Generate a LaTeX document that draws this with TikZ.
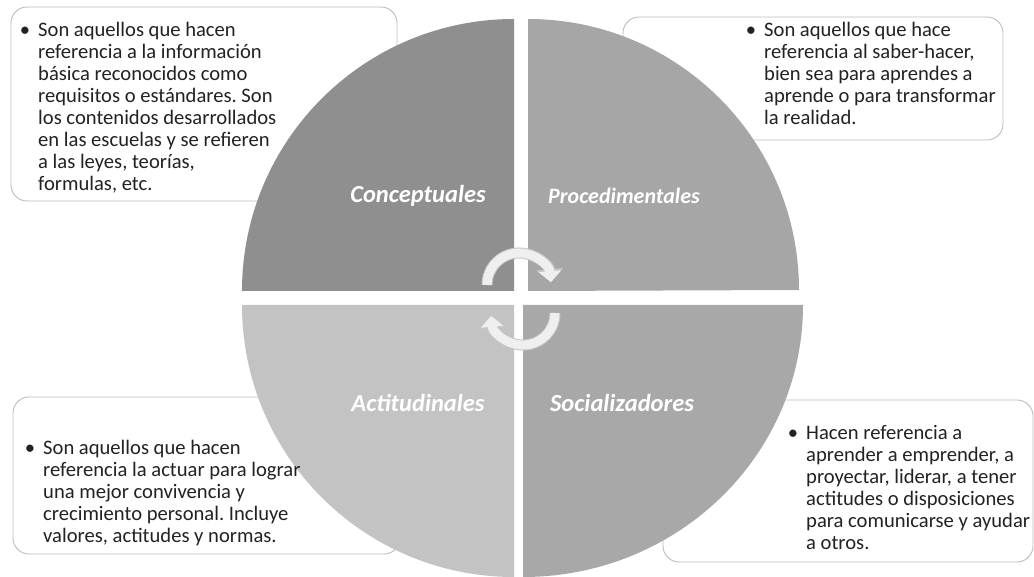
\documentclass[tikz,border=0pt]{standalone}
\usepackage{fontspec}
\setmainfont{Carlito}
\usetikzlibrary{arrows.meta}
\definecolor{qTL}{HTML}{8F8F8F}
\definecolor{qTR}{HTML}{A6A6A6}
\definecolor{qBL}{HTML}{C3C3C3}
\definecolor{qBR}{HTML}{A8A8A8}
\definecolor{boxline}{HTML}{BDBDBD}
\definecolor{txtcol}{HTML}{222222}
\definecolor{arrfill}{HTML}{EFEFEF}
\definecolor{arredge}{HTML}{C6C6C6}
\newcommand{\mybul}{\leavevmode\llap{•\hspace{8pt}}}
\newcommand{\bodyfont}{\fontsize{20.6}{22}\selectfont\frenchspacing}
\begin{document}
\begin{tikzpicture}[x=1pt,y=1pt,
  infobox/.style={draw=boxline, fill=white, rounded corners=16pt, line width=0.9pt},
  lbl/.style={text=white, font=\fontsize{24.5}{28}\selectfont\bfseries\itshape, inner sep=0, anchor=center},
  txt/.style={anchor=base west, inner sep=0, text=txtcol},
  arrowedge/.style={draw=arredge, line width=11pt, -{Triangle[width=26pt,length=13pt]}},
  arrowbody/.style={draw=arrfill, line width=9pt, -{Triangle[width=22pt,length=11pt]}}]
\useasboundingbox (0,0) rectangle (1034,576);
% text boxes (behind the circle)
\path[infobox] (11,569) rectangle (397,375);
\path[infobox] (623,559) rectangle (1003,436);
\path[infobox] (13,179) rectangle (400,22);
\path[infobox] (663,176) rectangle (1033,14);
% quadrants
\fill[qTL] (514,285) -- (242,285) arc[start angle=180,end angle=90,radius=272] -- cycle;
\fill[qTR] (528,285) -- (528,557) arc[start angle=90,end angle=0,radius=271] -- cycle;
\fill[qBL] (514,271) -- (242,271) arc[start angle=180,end angle=270,radius=272] -- cycle;
\fill[qBR] (523,271) -- (523,-1) arc[start angle=270,end angle=360,x radius=280,y radius=272] -- cycle;
% labels
\node[lbl] (lC) at (418,380) {Conceptuales};
\node[lbl, font=\fontsize{22}{26}\selectfont\bfseries\itshape] (lP) at (624,380) {Procedimentales};
\node[lbl] (lA) at (418,173) {Actitudinales};
\node[lbl] (lS) at (622,173) {Socializadores};
% cycle arrows
\coordinate (cA) at (519,291);
\coordinate (cB) at (523,263);
\path[arrowedge] ([shift={(180:32)}]cA) arc[start angle=180,end angle=5,radius=32];
\path[arrowbody] ([shift={(180:32)}]cA) arc[start angle=180,end angle=5,radius=32];
\path[arrowedge] ([shift={(0:32)}]cB) arc[start angle=0,end angle=-175,radius=32];
\path[arrowbody] ([shift={(0:32)}]cB) arc[start angle=0,end angle=-175,radius=32];
% texts
\node[txt] (tC) at (38,539) {\parbox[t]{360pt}{\bodyfont\mybul Son aquellos que hacen\\
referencia a la información\\
básica reconocidos como\\
requisitos o estándares. Son\\
los contenidos desarrollados\\
en las escuelas y se refieren\\
a las leyes, teorías,\\
formulas, etc.}};
\node[txt] (tP) at (764,539) {\parbox[t]{240pt}{\bodyfont\mybul Son aquellos que hace\\
referencia al saber-hacer,\\
bien sea para aprendes a\\
aprende o para transformar\\
la realidad.}};
\node[txt] (tA) at (43,121) {\parbox[t]{360pt}{\bodyfont\mybul Son aquellos que hacen\\
referencia la actuar para lograr\\
una mejor convivencia y\\
crecimiento personal. Incluye\\
valores, actitudes y normas.}};
\node[txt] (tS) at (806,136) {\parbox[t]{240pt}{\bodyfont\mybul Hacen referencia a\\
aprender a emprender, a\\
proyectar, liderar, a tener\\
actitudes o disposiciones\\
para comunicarse y ayudar\\
a otros.}};
\end{tikzpicture}
\end{document}
